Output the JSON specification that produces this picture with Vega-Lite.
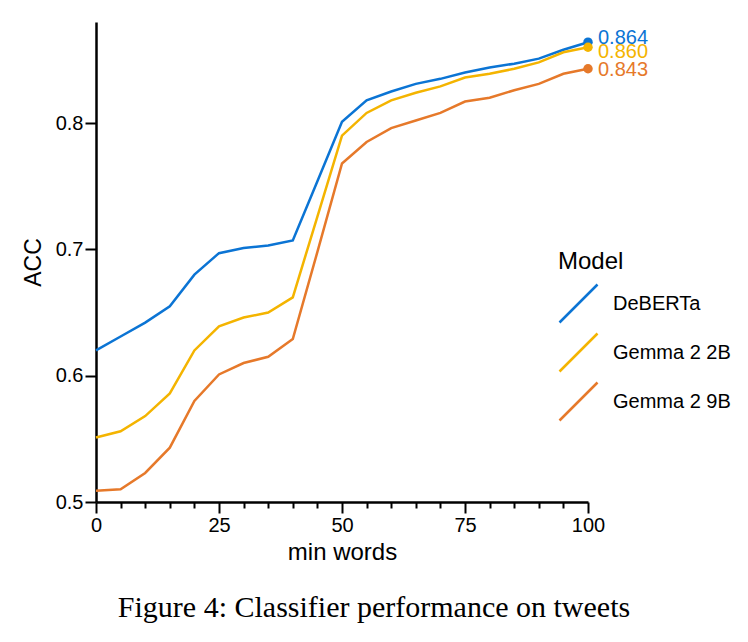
{
  "$schema": "https://vega.github.io/schema/vega-lite/v6.json",
  "width": 492,
  "height": 480,
  "autosize": {"type": "none"},
  "padding": {"left": 96, "top": 22, "right": 160, "bottom": 140},
  "background": "white",
  "config": {
    "font": "Liberation Sans",
    "view": {"stroke": null}
  },
  "title": {
    "text": "Figure 4: Classifier performance on tweets",
    "orient": "bottom",
    "anchor": "middle",
    "font": "Liberation Serif",
    "fontSize": 30,
    "fontWeight": "normal",
    "color": "black",
    "offset": 29,
    "dx": 32
  },
  "data": {
    "values": [
      {"model": "DeBERTa", "min_words": 0, "acc": 0.620},
      {"model": "DeBERTa", "min_words": 5, "acc": 0.631},
      {"model": "DeBERTa", "min_words": 10, "acc": 0.642},
      {"model": "DeBERTa", "min_words": 15, "acc": 0.655},
      {"model": "DeBERTa", "min_words": 20, "acc": 0.680},
      {"model": "DeBERTa", "min_words": 25, "acc": 0.697},
      {"model": "DeBERTa", "min_words": 30, "acc": 0.701},
      {"model": "DeBERTa", "min_words": 35, "acc": 0.703},
      {"model": "DeBERTa", "min_words": 40, "acc": 0.707},
      {"model": "DeBERTa", "min_words": 45, "acc": 0.754},
      {"model": "DeBERTa", "min_words": 50, "acc": 0.801},
      {"model": "DeBERTa", "min_words": 55, "acc": 0.818},
      {"model": "DeBERTa", "min_words": 60, "acc": 0.825},
      {"model": "DeBERTa", "min_words": 65, "acc": 0.831},
      {"model": "DeBERTa", "min_words": 70, "acc": 0.835},
      {"model": "DeBERTa", "min_words": 75, "acc": 0.840},
      {"model": "DeBERTa", "min_words": 80, "acc": 0.844},
      {"model": "DeBERTa", "min_words": 85, "acc": 0.847},
      {"model": "DeBERTa", "min_words": 90, "acc": 0.851},
      {"model": "DeBERTa", "min_words": 95, "acc": 0.858},
      {"model": "DeBERTa", "min_words": 100, "acc": 0.864, "label": "0.864"},
      {"model": "Gemma 2 2B", "min_words": 0, "acc": 0.551},
      {"model": "Gemma 2 2B", "min_words": 5, "acc": 0.556},
      {"model": "Gemma 2 2B", "min_words": 10, "acc": 0.568},
      {"model": "Gemma 2 2B", "min_words": 15, "acc": 0.586},
      {"model": "Gemma 2 2B", "min_words": 20, "acc": 0.620},
      {"model": "Gemma 2 2B", "min_words": 25, "acc": 0.639},
      {"model": "Gemma 2 2B", "min_words": 30, "acc": 0.646},
      {"model": "Gemma 2 2B", "min_words": 35, "acc": 0.650},
      {"model": "Gemma 2 2B", "min_words": 40, "acc": 0.662},
      {"model": "Gemma 2 2B", "min_words": 45, "acc": 0.726},
      {"model": "Gemma 2 2B", "min_words": 50, "acc": 0.790},
      {"model": "Gemma 2 2B", "min_words": 55, "acc": 0.808},
      {"model": "Gemma 2 2B", "min_words": 60, "acc": 0.818},
      {"model": "Gemma 2 2B", "min_words": 65, "acc": 0.824},
      {"model": "Gemma 2 2B", "min_words": 70, "acc": 0.829},
      {"model": "Gemma 2 2B", "min_words": 75, "acc": 0.836},
      {"model": "Gemma 2 2B", "min_words": 80, "acc": 0.839},
      {"model": "Gemma 2 2B", "min_words": 85, "acc": 0.843},
      {"model": "Gemma 2 2B", "min_words": 90, "acc": 0.848},
      {"model": "Gemma 2 2B", "min_words": 95, "acc": 0.856},
      {"model": "Gemma 2 2B", "min_words": 100, "acc": 0.860, "label": "0.860"},
      {"model": "Gemma 2 9B", "min_words": 0, "acc": 0.509},
      {"model": "Gemma 2 9B", "min_words": 5, "acc": 0.510},
      {"model": "Gemma 2 9B", "min_words": 10, "acc": 0.523},
      {"model": "Gemma 2 9B", "min_words": 15, "acc": 0.543},
      {"model": "Gemma 2 9B", "min_words": 20, "acc": 0.580},
      {"model": "Gemma 2 9B", "min_words": 25, "acc": 0.601},
      {"model": "Gemma 2 9B", "min_words": 30, "acc": 0.610},
      {"model": "Gemma 2 9B", "min_words": 35, "acc": 0.615},
      {"model": "Gemma 2 9B", "min_words": 40, "acc": 0.629},
      {"model": "Gemma 2 9B", "min_words": 45, "acc": 0.698},
      {"model": "Gemma 2 9B", "min_words": 50, "acc": 0.768},
      {"model": "Gemma 2 9B", "min_words": 55, "acc": 0.785},
      {"model": "Gemma 2 9B", "min_words": 60, "acc": 0.796},
      {"model": "Gemma 2 9B", "min_words": 65, "acc": 0.802},
      {"model": "Gemma 2 9B", "min_words": 70, "acc": 0.808},
      {"model": "Gemma 2 9B", "min_words": 75, "acc": 0.817},
      {"model": "Gemma 2 9B", "min_words": 80, "acc": 0.820},
      {"model": "Gemma 2 9B", "min_words": 85, "acc": 0.826},
      {"model": "Gemma 2 9B", "min_words": 90, "acc": 0.831},
      {"model": "Gemma 2 9B", "min_words": 95, "acc": 0.839},
      {"model": "Gemma 2 9B", "min_words": 100, "acc": 0.843, "label": "0.843"}
    ]
  },
  "encoding": {
    "x": {
      "field": "min_words",
      "type": "quantitative",
      "scale": {"domain": [0, 100], "nice": false},
      "axis": {
        "title": "min words",
        "titleFontSize": 24,
        "titleFontWeight": "normal",
        "titleColor": "black",
        "titlePadding": 5,
        "grid": false,
        "domainWidth": 2.5,
        "domainColor": "black",
        "labelFontSize": 20,
        "labelColor": "black",
        "values": [0, 5, 10, 15, 20, 25, 30, 35, 40, 45, 50, 55, 60, 65, 70, 75, 80, 85, 90, 95, 100],
        "labelExpr": "datum.value % 25 === 0 ? datum.label : ''",
        "tickColor": "black",
        "tickWidth": 2,
        "tickSize": {"condition": {"test": "datum.value % 25 === 0", "value": 11}, "value": 6},
        "labelFlush": false,
        "labelOverlap": false
      }
    },
    "y": {
      "field": "acc",
      "type": "quantitative",
      "scale": {"domain": [0.5, 0.88], "nice": false, "zero": false},
      "axis": {
        "title": "ACC",
        "titleFontSize": 23,
        "titleFontWeight": "normal",
        "titleColor": "black",
        "titlePadding": 10,
        "grid": false,
        "domainWidth": 2.5,
        "domainColor": "black",
        "labelFontSize": 20,
        "labelColor": "black",
        "values": [0.5, 0.6, 0.7, 0.8],
        "format": ".1f",
        "tickColor": "black",
        "tickWidth": 2,
        "tickSize": 11
      }
    },
    "color": {
      "field": "model",
      "type": "nominal",
      "scale": {
        "domain": ["DeBERTa", "Gemma 2 2B", "Gemma 2 9B"],
        "range": ["#0b74d4", "#f4b400", "#e6792a"]
      }
    }
  },
  "layer": [
    {
      "mark": {"type": "line", "strokeWidth": 2.5},
      "encoding": {
        "color": {
          "field": "model",
          "type": "nominal",
          "legend": {
            "title": "Model",
            "orient": "none",
            "legendX": 462,
            "legendY": 228,
            "padding": 0,
            "titleFontSize": 24,
            "titleFontWeight": "normal",
            "titleColor": "black",
            "titlePadding": 9,
            "labelFontSize": 20,
            "labelColor": "black",
            "labelOffset": 14,
            "rowPadding": 0,
            "symbolType": "M-1,1L1,-1",
            "symbolSize": 1444,
            "symbolStrokeWidth": 2.5
          }
        }
      }
    },
    {
      "transform": [{"filter": "datum.min_words === 100"}],
      "mark": {"type": "point", "filled": true, "size": 90, "opacity": 1},
      "encoding": {"color": {"field": "model", "type": "nominal", "legend": null}}
    },
    {
      "transform": [{"filter": "datum.model === 'DeBERTa' && datum.min_words === 100"}],
      "mark": {"type": "text", "align": "left", "baseline": "middle", "dx": 10, "dy": -4, "fontSize": 20},
      "encoding": {"text": {"field": "label"}, "color": {"field": "model", "type": "nominal", "legend": null}}
    },
    {
      "transform": [{"filter": "datum.model === 'Gemma 2 2B' && datum.min_words === 100"}],
      "mark": {"type": "text", "align": "left", "baseline": "middle", "dx": 10, "dy": 5, "fontSize": 20},
      "encoding": {"text": {"field": "label"}, "color": {"field": "model", "type": "nominal", "legend": null}}
    },
    {
      "transform": [{"filter": "datum.model === 'Gemma 2 9B' && datum.min_words === 100"}],
      "mark": {"type": "text", "align": "left", "baseline": "middle", "dx": 10, "dy": 1, "fontSize": 20},
      "encoding": {"text": {"field": "label"}, "color": {"field": "model", "type": "nominal", "legend": null}}
    }
  ]
}
